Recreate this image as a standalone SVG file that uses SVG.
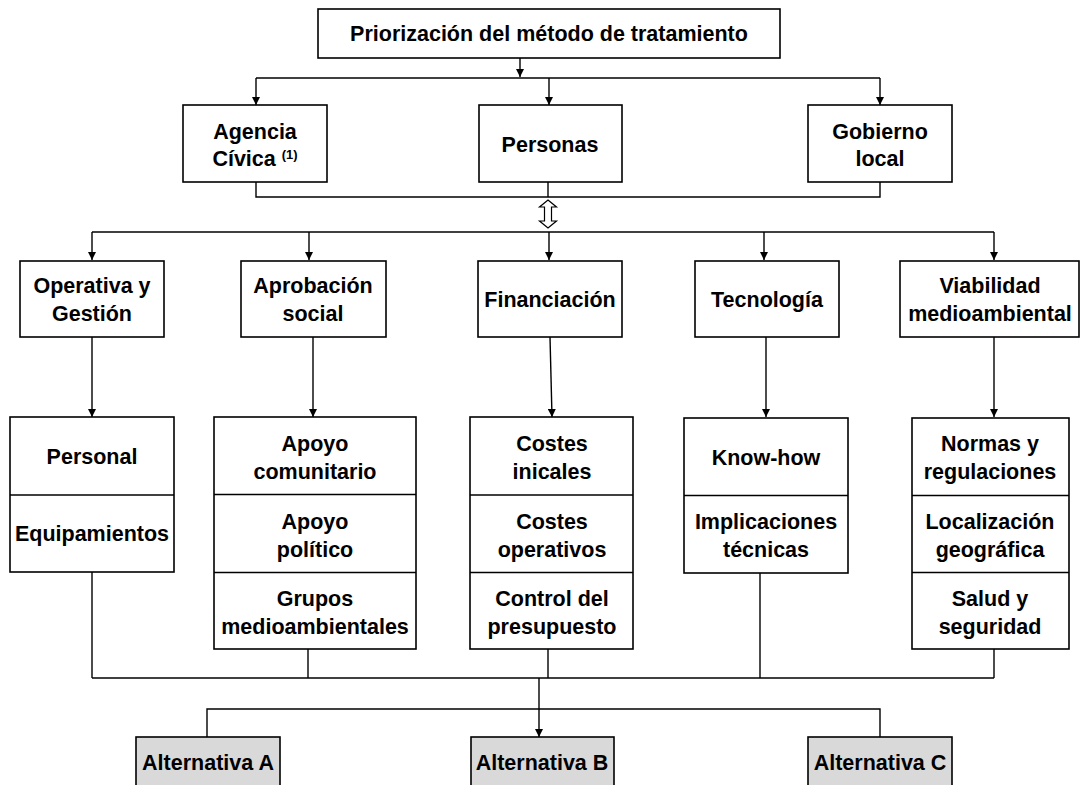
<svg xmlns="http://www.w3.org/2000/svg" width="1082" height="785" viewBox="0 0 1082 785">
  <style>
    .box { fill: #ffffff; stroke: #000000; stroke-width: 1.6; }
    .alt { fill: #d9d9d9; stroke: #000000; stroke-width: 1.6; }
    .sep { stroke: #000000; stroke-width: 1.6; fill: none; }
    .ln { stroke: #000000; stroke-width: 1.4; fill: none; }
    .arr { stroke: #000000; stroke-width: 1.4; fill: none; marker-end: url(#head); }
    text { font-family: "Liberation Sans", Arial, sans-serif; font-weight: bold; font-size: 21.5px; fill: #000000; text-anchor: middle; }
  </style>
  <defs>
    <marker id="head" viewBox="0 0 10 10" refX="10" refY="5" markerWidth="8" markerHeight="8" markerUnits="userSpaceOnUse" orient="auto">
      <path d="M0,0 L10,5 L0,10 Z" fill="#000000"/>
    </marker>
  </defs>

  <rect width="1082" height="785" fill="#ffffff"/>

  <!-- connectors -->
  <g id="connectors">
    <!-- title to first tier -->
    <line class="arr" x1="520" y1="58" x2="520" y2="77"/>
    <line class="ln" x1="256" y1="78" x2="880" y2="78"/>
    <line class="arr" x1="256" y1="78" x2="256" y2="105"/>
    <line class="arr" x1="549" y1="78" x2="549" y2="105"/>
    <line class="arr" x1="880" y1="78" x2="880" y2="105"/>
    <!-- first tier bracket -->
    <polyline class="ln" points="256,182 256,197 880,197 880,182"/>
    <line class="ln" x1="548" y1="182" x2="548" y2="197"/>
    <!-- hollow double arrow -->
    <path d="M548,200 L556.5,207 L551.5,207 L551.5,221 L556.5,221 L548,228 L539.5,221 L544.5,221 L544.5,207 L539.5,207 Z" fill="#ffffff" stroke="#000000" stroke-width="1.2"/>
    <!-- second tier distribution -->
    <line class="ln" x1="92" y1="232" x2="994" y2="232"/>
    <line class="arr" x1="92" y1="232" x2="92" y2="260"/>
    <line class="arr" x1="309" y1="232" x2="309" y2="260"/>
    <line class="arr" x1="549" y1="232" x2="549" y2="260"/>
    <line class="arr" x1="764" y1="232" x2="764" y2="260"/>
    <line class="arr" x1="994" y1="232" x2="994" y2="260"/>
    <!-- second tier to criteria -->
    <line class="arr" x1="92" y1="337" x2="92" y2="417"/>
    <line class="arr" x1="313" y1="337" x2="313" y2="417"/>
    <line class="arr" x1="550" y1="337" x2="552" y2="417"/>
    <line class="arr" x1="766" y1="337" x2="766" y2="417"/>
    <line class="arr" x1="994" y1="337" x2="994" y2="417"/>
    <!-- criteria gathered -->
    <line class="ln" x1="92" y1="572" x2="92" y2="678"/>
    <line class="ln" x1="308" y1="649" x2="308" y2="678"/>
    <line class="ln" x1="548" y1="649" x2="548" y2="678"/>
    <line class="ln" x1="760" y1="572" x2="760" y2="678"/>
    <line class="ln" x1="994" y1="649" x2="994" y2="678"/>
    <line class="ln" x1="92" y1="678" x2="994" y2="678"/>
    <!-- to alternatives -->
    <line class="arr" x1="539" y1="678" x2="539" y2="737"/>
    <polyline class="ln" points="207,737 207,709 880,709 880,737"/>
  </g>

  <!-- title -->
  <g id="node-title">
    <rect class="box" x="318" y="9" width="462" height="49"/>
    <text x="549" y="41">Priorización del método de tratamiento</text>
  </g>

  <!-- first tier -->
  <g id="node-agencia">
    <rect class="box" x="183" y="105" width="144" height="77"/>
    <text x="255" y="139">Agencia</text>
    <text x="255" y="166">Cívica <tspan font-size="13" dy="-7">(1)</tspan></text>
  </g>
  <g id="node-personas">
    <rect class="box" x="479" y="105" width="143" height="77"/>
    <text x="550" y="152">Personas</text>
  </g>
  <g id="node-gobierno">
    <rect class="box" x="808" y="105" width="144" height="77"/>
    <text x="880" y="139">Gobierno</text>
    <text x="880" y="166">local</text>
  </g>

  <!-- second tier -->
  <g id="node-operativa">
    <rect class="box" x="20" y="261" width="144" height="76"/>
    <text x="92" y="293">Operativa y</text>
    <text x="92" y="321">Gestión</text>
  </g>
  <g id="node-aprobacion">
    <rect class="box" x="241" y="261" width="145" height="76"/>
    <text x="313" y="293">Aprobación</text>
    <text x="313" y="321">social</text>
  </g>
  <g id="node-financiacion">
    <rect class="box" x="478" y="261" width="144" height="76"/>
    <text x="550" y="307">Financiación</text>
  </g>
  <g id="node-tecnologia">
    <rect class="box" x="695" y="261" width="144" height="76"/>
    <text x="767" y="307">Tecnología</text>
  </g>
  <g id="node-viabilidad">
    <rect class="box" x="900" y="261" width="179" height="76"/>
    <text x="990" y="293">Viabilidad</text>
    <text x="990" y="321">medioambiental</text>
  </g>

  <!-- criteria -->
  <g id="node-personal">
    <rect class="box" x="10" y="417" width="164" height="155"/>
    <line class="sep" x1="10" y1="495" x2="174" y2="495"/>
    <text x="92" y="464">Personal</text>
    <text x="92" y="541">Equipamientos</text>
  </g>
  <g id="node-apoyo">
    <rect class="box" x="214" y="417" width="202" height="232"/>
    <line class="sep" x1="214" y1="494.5" x2="416" y2="494.5"/>
    <line class="sep" x1="214" y1="572.5" x2="416" y2="572.5"/>
    <text x="315" y="451">Apoyo</text>
    <text x="315" y="479">comunitario</text>
    <text x="315" y="529">Apoyo</text>
    <text x="315" y="557">político</text>
    <text x="315" y="606">Grupos</text>
    <text x="315" y="634">medioambientales</text>
  </g>
  <g id="node-costes">
    <rect class="box" x="470" y="417" width="163" height="232"/>
    <line class="sep" x1="470" y1="495" x2="633" y2="495"/>
    <line class="sep" x1="470" y1="572.5" x2="633" y2="572.5"/>
    <text x="552" y="451">Costes</text>
    <text x="552" y="479">inicales</text>
    <text x="552" y="529">Costes</text>
    <text x="552" y="557">operativos</text>
    <text x="552" y="606">Control del</text>
    <text x="552" y="634">presupuesto</text>
  </g>
  <g id="node-knowhow">
    <rect class="box" x="684" y="418" width="164" height="155"/>
    <line class="sep" x1="684" y1="495.5" x2="848" y2="495.5"/>
    <text x="766" y="465">Know-how</text>
    <text x="766" y="529">Implicaciones</text>
    <text x="766" y="557">técnicas</text>
  </g>
  <g id="node-normas">
    <rect class="box" x="912" y="418" width="157" height="231"/>
    <line class="sep" x1="912" y1="495.5" x2="1069" y2="495.5"/>
    <line class="sep" x1="912" y1="572.5" x2="1069" y2="572.5"/>
    <text x="990" y="451">Normas y</text>
    <text x="990" y="479">regulaciones</text>
    <text x="990" y="529">Localización</text>
    <text x="990" y="557">geográfica</text>
    <text x="990" y="606">Salud y</text>
    <text x="990" y="634">seguridad</text>
  </g>

  <!-- alternatives -->
  <g id="node-alt-a">
    <rect class="alt" x="136" y="737" width="144" height="60"/>
    <text x="208" y="770">Alternativa A</text>
  </g>
  <g id="node-alt-b">
    <rect class="alt" x="471" y="737" width="143" height="60"/>
    <text x="542" y="770">Alternativa B</text>
  </g>
  <g id="node-alt-c">
    <rect class="alt" x="808" y="737" width="144" height="60"/>
    <text x="880" y="770">Alternativa C</text>
  </g>
</svg>
